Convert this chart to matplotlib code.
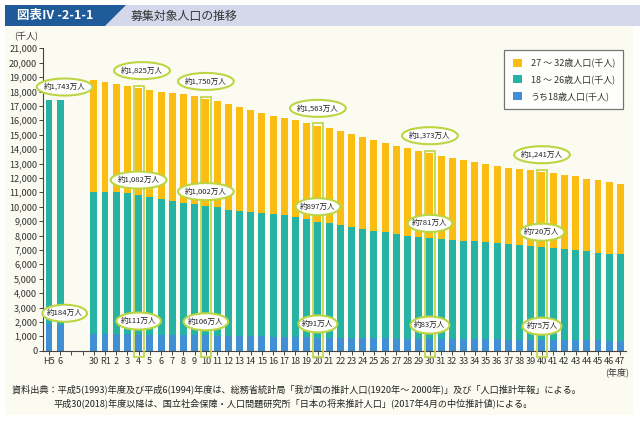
import matplotlib
matplotlib.use("Agg")
import matplotlib.pyplot as plt
from matplotlib.patches import Rectangle, Polygon, Patch, Ellipse
import numpy as np

plt.rcParams['font.family'] = ['Noto Sans CJK JP', 'DejaVu Sans']

# ---------------- data (thousand persons) ----------------
years = ['H5', '6', '', '', '30', 'R1'] + [str(i) for i in range(2, 48)]

# total 18-32 (top of bar); None for blank slots
total_18_32 = [17430, 17420, None, None,
               18830, 18670, 18500, 18380, 18250, 18100, 17980, 17930, 17830, 17720,
               17500, 17330, 17100, 16900, 16690, 16490, 16300, 16170, 16010, 15800,
               15630, 15470, 15260, 15080, 14820, 14610, 14420, 14200, 14060, 13900,
               13730, 13500, 13360, 13210, 13090, 12960, 12840, 12720, 12630, 12520,
               12410, 12310, 12190, 12100, 11930, 11820, 11730, 11570]

pop_18_26 = [17430, 17420, None, None,
             11040, 11040, 11030, 10950, 10820, 10700, 10530, 10420, 10280, 10190,
             10020, 9960, 9790, 9720, 9630, 9550, 9480, 9390, 9270, 9130,
             8970, 8850, 8700, 8580, 8460, 8320, 8210, 8070, 8000, 7910,
             7810, 7740, 7690, 7640, 7600, 7530, 7480, 7430, 7340, 7290,
             7200, 7130, 7060, 6990, 6900, 6810, 6740, 6690]

pop_18 = [1840, 1770, None, None,
          1180, 1170, 1160, 1130, 1110, 1100, 1090, 1080, 1070, 1060,
          1060, 1050, 1030, 1010, 1000, 990, 980, 960, 940, 920,
          910, 900, 890, 870, 860, 860, 850, 840, 840, 830,
          830, 820, 810, 810, 800, 790, 780, 770, 770, 760,
          750, 740, 740, 730, 720, 710, 700, 690]

highlight_years = ['4', '10', '20', '30', '40']   # Reiwa years

legend_labels = ['27 ～ 32歳人口(千人)', '18 ～ 26歳人口(千人)', 'うち18歳人口(千人)']
title_box = '図表Ⅳ -2-1-1'
title_text = '募集対象人口の推移'
source_lines = ['資料出典：平成5(1993)年度及び平成6(1994)年度は、総務省統計局「我が国の推計人口(1920年～ 2000年)」及び「人口推計年報」による。',
                '平成30(2018)年度以降は、国立社会保障・人口問題研究所「日本の将来推計人口」(2017年4月の中位推計値)による。']

# ---------------- styling ----------------
C_ORANGE = '#fbbd12'
C_TEAL = '#27b3a3'
C_BLUE = '#418fd5'
C_GREEN = '#bcd543'

W, H = 640, 424
fig = plt.figure(figsize=(6.4, 4.24), dpi=100)
fig.patch.set_facecolor('white')

def fp(x, y):
    return (x / W, 1 - y / H)

# background panel
fig.patches.append(Rectangle(fp(5, 415), 628 / W, 389 / H, transform=fig.transFigure,
                             facecolor='#fcfbf1', edgecolor='none', zorder=-10))
# header band
fig.patches.append(Rectangle(fp(5, 26), 635 / W, 21 / H, transform=fig.transFigure,
                             facecolor='#d3d9ea', edgecolor='none', zorder=-9))
fig.patches.append(Polygon([fp(5, 5), fp(126, 5), fp(105, 26), fp(5, 26)], closed=True,
                           transform=fig.transFigure, facecolor='#1f5b98', edgecolor='none', zorder=-8))
fig.text(*fp(17, 16), title_box, color='white', fontsize=9, fontweight='bold', va='center', ha='left', zorder=3)
fig.text(*fp(131, 16), title_text, color='#333333', fontsize=8.6, va='center', ha='left', zorder=3)

AX_W_PX, AX_H_PX = 582.6, 302.4
ax = fig.add_axes([43.4 / W, (H - 350.7) / H, AX_W_PX / W, AX_H_PX / H])
ax.set_facecolor('none')
ax.set_zorder(1)

x = np.arange(len(years))
valid = [i for i in range(len(years)) if total_18_32[i] is not None]
xv = np.array(valid)
tot = np.array([total_18_32[i] for i in valid], dtype=float)
t26 = np.array([pop_18_26[i] for i in valid], dtype=float)
p18 = np.array([pop_18[i] for i in valid], dtype=float)

bw = 0.62
ax.bar(xv, p18, width=bw, color=C_BLUE, zorder=2)
ax.bar(xv, t26 - p18, width=bw, bottom=p18, color=C_TEAL, zorder=2)
ax.bar(xv, tot - t26, width=bw, bottom=t26, color=C_ORANGE, zorder=2)

XMAX = len(years) - 0.5
YMAX = 21000
ax.set_xlim(-0.5, XMAX)
ax.set_ylim(0, YMAX)
ax.set_yticks(np.arange(0, 21001, 1000))
ax.set_yticklabels([f'{v:,}' for v in range(0, 21001, 1000)], fontsize=6.6, color='#333333')
ax.set_xticks(x)
ax.set_xticklabels(years, fontsize=6.6, color='#333333')
for s in ['top', 'right']:
    ax.spines[s].set_visible(False)
for s in ['left', 'bottom']:
    ax.spines[s].set_color('#444444')
    ax.spines[s].set_linewidth(0.8)
ax.tick_params(axis='y', length=3, width=0.7, colors='#444444', pad=1.5, labelcolor='#333333')
ax.tick_params(axis='x', length=3, width=0.7, colors='#444444', pad=1.5, labelcolor='#333333')

# pixel -> data scale
px_x = (XMAX + 0.5) / AX_W_PX
px_y = YMAX / AX_H_PX

r1 = years.index('R1')
hl_idx = [years.index(yl, r1) for yl in highlight_years]

# highlight boxes
for i in hl_idx:
    top = total_18_32[i]
    ax.add_patch(Rectangle((i - 0.45, -450), 0.9, top + 150 + 450, fill=False,
                           edgecolor=C_GREEN, linewidth=1.2, clip_on=False, zorder=3))

# annotations
def note(xpos, ypos, val):
    label = f'約{val / 10:,.0f}万人'
    wpx = 11 + 5.6 * len(label)
    ax.add_patch(Ellipse((xpos, ypos), wpx * px_x, 17 * px_y, facecolor='white',
                         edgecolor=C_GREEN, linewidth=1.5, zorder=5, clip_on=False))
    ax.text(xpos, ypos, label, fontsize=5.5, ha='center', va='center',
            color='#222222', zorder=6, clip_on=False)

note(1.4, total_18_32[0] + 880, total_18_32[0])
note(1.4, pop_18[0] + 760, pop_18[0])
for i in hl_idx:
    note(i + 0.3 if i == hl_idx[0] else i, total_18_32[i] + 1200, total_18_32[i])
    note(i, pop_18_26[i] + 1030, pop_18_26[i])
    note(i, pop_18[i] + 950, pop_18[i])

# legend
handles = [Patch(facecolor=c, edgecolor='none') for c in (C_ORANGE, C_TEAL, C_BLUE)]
leg = ax.legend(handles, legend_labels, loc='upper right', bbox_to_anchor=(0.995, 0.995),
                fontsize=6.5, frameon=True, fancybox=False, handlelength=1.0, handleheight=1.0,
                borderpad=0.9, labelspacing=0.75, handletextpad=1.0, borderaxespad=0)
leg.get_frame().set_edgecolor('#555555')
leg.get_frame().set_linewidth(0.9)
leg.get_frame().set_facecolor('white')
leg.set_zorder(7)
for t in leg.get_texts():
    t.set_color('#333333')

# axis unit labels
fig.text(*fp(26, 37), '(千人)', fontsize=6.5, ha='center', va='center', color='#333333')
fig.text(*fp(617, 372), '(年度)', fontsize=6.5, ha='center', va='center', color='#333333')

# source
fig.text(*fp(12, 389), source_lines[0], fontsize=6.6, ha='left', va='center', color='#222222')
fig.text(*fp(54, 403), source_lines[1], fontsize=6.6, ha='left', va='center', color='#222222')

fig.savefig('out.png', dpi=100, facecolor=fig.get_facecolor())
